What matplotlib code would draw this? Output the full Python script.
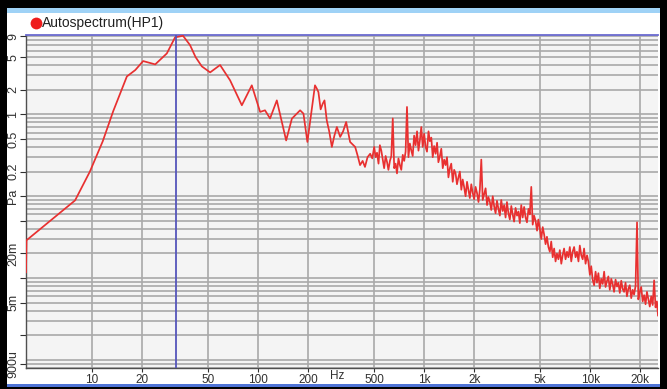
import numpy as np
import matplotlib.pyplot as plt
from matplotlib.patches import Rectangle
from matplotlib.lines import Line2D
from matplotlib.ticker import FixedLocator, FixedFormatter, LogLocator, NullFormatter

# ---- data (Hz, Pa) ----
# smooth low-frequency part
freq_low = [4.0, 4.03, 7.9, 9.7, 11.6, 13.4, 16.2, 18.2, 20.3, 24.0, 28.2, 31.6,
            35.3, 38.9, 42.0, 45.8, 51.4, 59.0, 67.8, 79.8, 91.6, 102.8, 110, 118,
            129.6, 147.5, 159.7, 179, 187.5, 198, 220, 226, 230.7, 238, 245, 251,
            259, 268, 278, 288, 298, 312, 325, 339, 358, 384, 398, 411, 426, 440,
            456, 473, 487]
amp_low = [0.0118, 0.029, 0.089, 0.20, 0.47, 1.09, 2.9, 3.47, 4.47, 4.07, 5.54, 8.7,
           9.1, 7.0, 5.0, 3.85, 3.25, 4.0, 2.6, 1.29, 2.26, 1.07, 1.12, 0.89,
           1.48, 0.48, 0.886, 1.12, 1.02, 0.46, 2.26, 2.05, 1.87, 1.15, 1.35, 1.48,
           0.845, 0.62, 0.40, 0.55, 0.70, 0.53, 0.62, 0.806, 0.46, 0.40, 0.31, 0.24,
           0.27, 0.228, 0.30, 0.33, 0.29]

# noisy part, one list per octave
freq_oct1 = [500, 510, 520, 531, 541, 552, 563, 574, 586, 598, 609, 622, 634, 647, 660,
             673, 686, 700, 714, 728, 743, 758, 773, 788, 804, 820, 837, 853, 870, 888,
             906, 924, 942, 961, 980]
amp_oct1 = [0.40, 0.30, 0.34, 0.25, 0.42, 0.36, 0.28, 0.22, 0.31, 0.26, 0.21, 0.27, 0.31,
            0.89, 0.22, 0.25, 0.19, 0.29, 0.24, 0.21, 0.32, 0.27, 0.35, 1.23, 0.30, 0.44,
            0.36, 0.31, 0.55, 0.42, 0.62, 0.36, 0.48, 0.70, 0.40]

freq_oct2 = [1000, 1020, 1040, 1062, 1082, 1104, 1126, 1148, 1172, 1196, 1218, 1244,
             1268, 1294, 1320, 1346, 1372, 1400, 1428, 1456, 1486, 1516, 1546, 1576,
             1608, 1640, 1674, 1706, 1740, 1776, 1812, 1848, 1884, 1922, 1960]
amp_oct2 = [0.58, 0.40, 0.35, 0.62, 0.47, 0.52, 0.30, 0.41, 0.33, 0.45, 0.26, 0.31, 0.38,
            0.22, 0.28, 0.24, 0.30, 0.17, 0.22, 0.25, 0.15, 0.21, 0.19, 0.14, 0.17, 0.20,
            0.12, 0.16, 0.13, 0.10, 0.15, 0.12, 0.095, 0.14, 0.11]

freq_oct3 = [2000, 2040, 2080, 2124, 2164, 2208, 2252, 2296, 2344, 2392, 2436, 2488,
             2536, 2588, 2640, 2692, 2744, 2800, 2856, 2912, 2972, 3032, 3092, 3152,
             3216, 3280, 3348, 3412, 3480, 3552, 3624, 3696, 3768, 3844, 3920]
amp_oct3 = [0.092, 0.13, 0.11, 0.085, 0.12, 0.28, 0.09, 0.105, 0.125, 0.078, 0.098,
            0.085, 0.068, 0.10, 0.075, 0.062, 0.088, 0.07, 0.058, 0.09, 0.066, 0.078,
            0.055, 0.085, 0.062, 0.052, 0.076, 0.06, 0.049, 0.072, 0.058, 0.065, 0.047,
            0.078, 0.055]

freq_oct4 = [4000, 4080, 4160, 4248, 4328, 4416, 4504, 4592, 4688, 4784, 4872, 4976,
             5072, 5176, 5280, 5384, 5488, 5600, 5712, 5824, 5944, 6064, 6184, 6304,
             6432, 6560, 6696, 6824, 6960, 7104, 7248, 7392, 7536, 7688, 7840]
amp_oct4 = [0.074, 0.055, 0.048, 0.07, 0.06, 0.13, 0.045, 0.058, 0.05, 0.038, 0.052,
            0.04, 0.03, 0.042, 0.034, 0.026, 0.032, 0.024, 0.021, 0.028, 0.018, 0.023,
            0.016, 0.02, 0.017, 0.022, 0.015, 0.019, 0.023, 0.017, 0.021, 0.018, 0.024,
            0.016, 0.021]

freq_oct5 = [8000, 8160, 8320, 8496, 8656, 8832, 9008, 9184, 9376, 9568, 9744, 9952,
             10140, 10350, 10560, 10770, 10980, 11200, 11420, 11650, 11890, 12130, 12370,
             12610, 12860, 13120, 13390, 13650, 13920, 14210, 14500, 14780, 15070, 15380,
             15680]
amp_oct5 = [0.024, 0.018, 0.021, 0.016, 0.025, 0.019, 0.017, 0.023, 0.015, 0.019, 0.016,
            0.011, 0.014, 0.0095, 0.0082, 0.012, 0.0088, 0.0115, 0.0075, 0.0098, 0.0085,
            0.012, 0.0078, 0.0092, 0.0105, 0.0072, 0.0098, 0.0085, 0.0068, 0.0096, 0.0079,
            0.0088, 0.0066, 0.0093, 0.0074]

freq_oct6 = [16000, 16320, 16640, 16990, 17310, 17660, 18020, 18370, 18750, 19140, 19490,
             19900, 20280, 20700, 21120, 21540, 21960, 22400, 22840, 23300, 23780, 24260,
             24740, 25220, 25600]
amp_oct6 = [0.0068, 0.0088, 0.006, 0.0075, 0.0082, 0.0057, 0.0072, 0.0063, 0.008, 0.048,
            0.0055, 0.0068, 0.0078, 0.0052, 0.0062, 0.0048, 0.0068, 0.0055, 0.0045, 0.006,
            0.0047, 0.0094, 0.0044, 0.0052, 0.0035]

x_ticks = [10, 20, 50, 100, 200, 500, 1000, 2000, 5000, 10000, 20000]
x_labels = ["10", "20", "50", "100", "200", "500", "1k", "2k", "5k", "10k", "20k"]
y_ticks = [9, 5, 2, 1, 0.5, 0.2, 0.1, 0.05, 0.02, 0.01, 0.005, 0.002, 0.0009]
y_labels = ["9", "5", "2", "1", "0.5", "0.2", "Pa", "", "20m", "", "5m", "", "900u"]
cursor_freq = 32
legend_text = "Autospectrum(HP1)"

font = ["Liberation Sans", "DejaVu Sans"]

W, H = 667, 389
fig = plt.figure(figsize=(W / 100, H / 100), dpi=100)
fig.patch.set_facecolor("black")

# window chrome (pixel coords -> figure fraction)
def px_rect(x0, y0, x1, y1, color):
    fig.add_artist(Rectangle((x0 / W, 1 - y1 / H), (x1 - x0) / W, (y1 - y0) / H,
                             transform=fig.transFigure, facecolor=color,
                             edgecolor="none", zorder=-10))

px_rect(7, 8, 660, 384, "white")
px_rect(7, 8, 660, 13, "#9fd2f6")
px_rect(7, 384, 660, 387, "#4f74d6")

fig.add_artist(Line2D([36 / W], [1 - 23 / H], marker="o", ms=8.5, color="#ee1c1c",
                      mec="none", transform=fig.transFigure))
fig.text(42 / W, 1 - 23 / H, legend_text, ha="left", va="center",
         fontsize=10, family=font, color="#202020")

ax = fig.add_axes([26 / W, 1 - 368 / H, (658 - 26) / W, (368 - 35) / H])
ax.set_facecolor("#f4f4f4")

freq = np.array(freq_low + freq_oct1 + freq_oct2 + freq_oct3 + freq_oct4
                + freq_oct5 + freq_oct6)
amp = np.array(amp_low + amp_oct1 + amp_oct2 + amp_oct3 + amp_oct4
               + amp_oct5 + amp_oct6)
ax.plot(freq, amp, color="#e83030", lw=1.25, zorder=3)
ax.axvline(cursor_freq, color="#5555bb", lw=1.3, zorder=4)

ax.set_xscale("log")
ax.set_yscale("log")
ax.set_xlim(4, 25600)
ax.set_ylim(0.0008, 9.3)

# x axis
ax.xaxis.set_major_locator(FixedLocator(x_ticks))
ax.xaxis.set_major_formatter(FixedFormatter(x_labels))
ax.xaxis.set_minor_locator(FixedLocator([300]))
ax.xaxis.set_minor_formatter(FixedFormatter(["Hz"]))
ax.tick_params(axis="x", which="both", labelsize=8.5, pad=1.5, colors="#303030")
ax.tick_params(axis="x", which="major", length=3)
ax.tick_params(axis="x", which="minor", length=0)
for lab in ax.get_xticklabels(which="both"):
    lab.set_family(font)

# y axis
ax.yaxis.set_major_locator(FixedLocator(y_ticks))
ax.yaxis.set_major_formatter(FixedFormatter(y_labels))
ax.yaxis.set_minor_locator(LogLocator(base=10, subs=np.arange(1, 10), numticks=50))
ax.yaxis.set_minor_formatter(NullFormatter())
ax.tick_params(axis="y", which="major", length=4, pad=1, labelsize=9, colors="#303030")
ax.tick_params(axis="y", which="minor", length=0)
for lab in ax.get_yticklabels():
    lab.set_rotation(90)
    lab.set_va("center")
    lab.set_family(font)

# grid
ax.grid(True, which="major", axis="x", color="#a9a9a9", lw=1.2)
ax.grid(True, which="both", axis="y", color="#a9a9a9", lw=1.2)
ax.set_axisbelow(True)

for s in ["left", "bottom"]:
    ax.spines[s].set_color("#505050")
    ax.spines[s].set_linewidth(1.0)
ax.spines["top"].set_color("#6a6ad0")
ax.spines["top"].set_linewidth(1.3)
ax.spines["right"].set_visible(False)

fig.savefig("out.png", dpi=100, facecolor=fig.get_facecolor())
